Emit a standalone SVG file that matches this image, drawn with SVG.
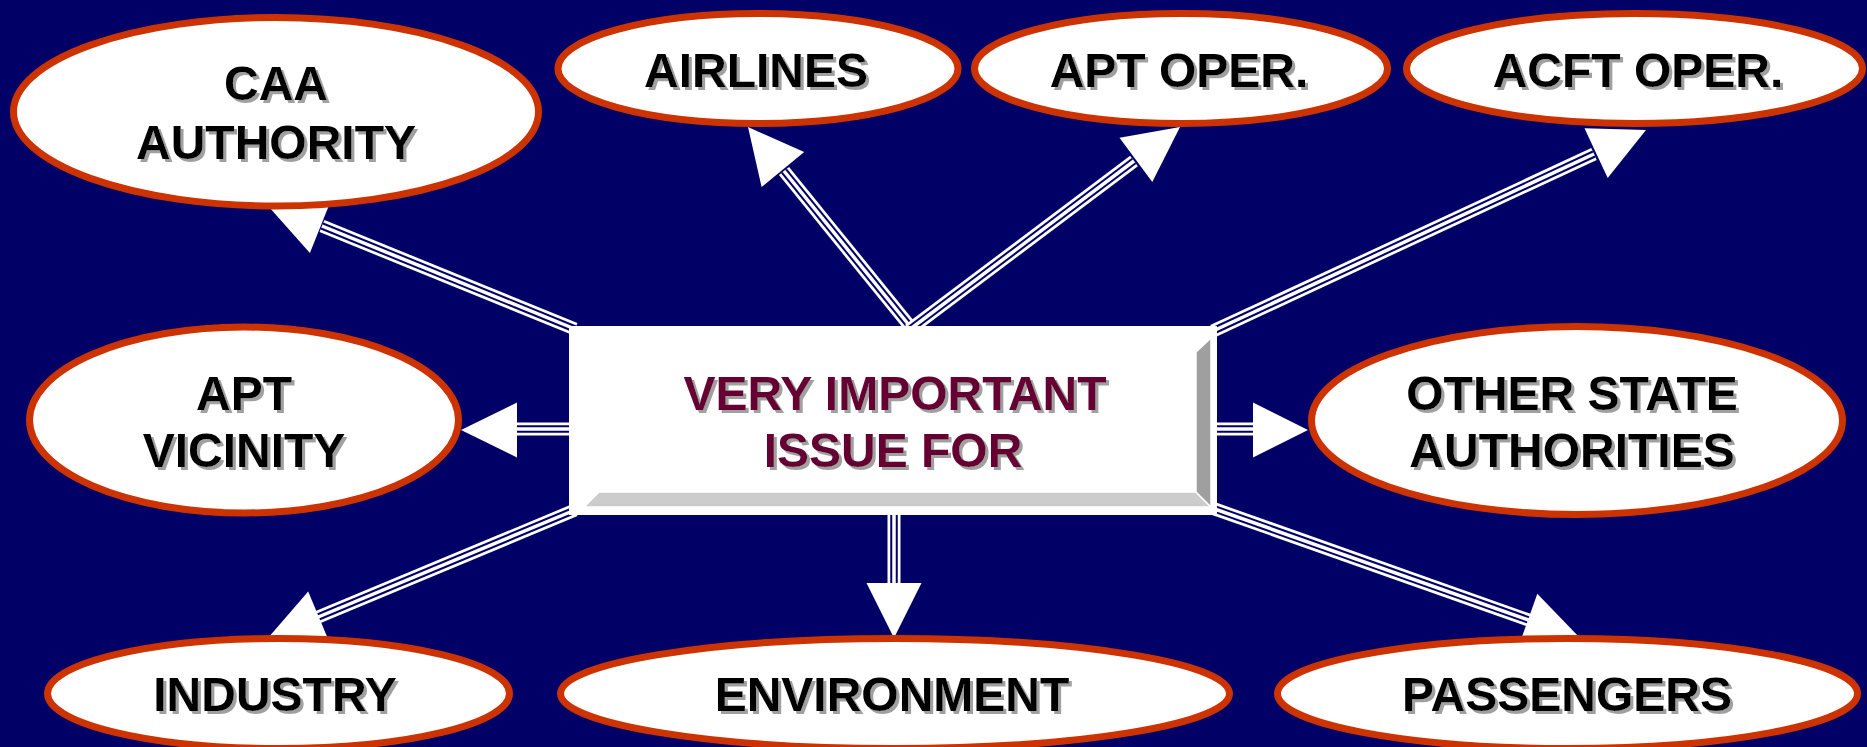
<svg xmlns="http://www.w3.org/2000/svg" width="1867" height="747" viewBox="0 0 1867 747">
<defs>
<filter id="sh" x="-5%" y="-20%" width="115%" height="150%">
<feDropShadow dx="3" dy="3" stdDeviation="0.6" flood-color="#A0A0A0" flood-opacity="1"/>
</filter>
<style>
.bg{fill:#000066}
.el{fill:#FFFFFF;stroke:#CC3300;stroke-width:7}
.t{font-family:"Liberation Sans",Arial,sans-serif;font-weight:bold;font-size:48px;text-anchor:middle;fill:#000000;filter:url(#sh)}
.tc{font-family:"Liberation Sans",Arial,sans-serif;font-weight:bold;font-size:48px;text-anchor:middle;fill:#660033;filter:url(#sh)}
.w1{stroke:#FFFFFF;stroke-width:13;fill:none}
.w2{stroke:#000066;stroke-width:7.5;fill:none}
.w3{stroke:#FFFFFF;stroke-width:3.5;fill:none}
.hd{fill:#FFFFFF}
</style>
</defs>
<rect class="bg" x="0" y="0" width="1867" height="747"/>
<g id="connectors">
<g><line class="w1" x1="575" y1="329" x2="322" y2="226"/><line class="w2" x1="575" y1="329" x2="322" y2="226"/><line class="w3" x1="575" y1="329" x2="322" y2="226"/>
<polygon class="hd" points="269,207 330.3,201.9 309.9,252.9"/></g>
<g><line class="w1" x1="913" y1="330" x2="784" y2="171"/><line class="w2" x1="913" y1="330" x2="784" y2="171"/><line class="w3" x1="913" y1="330" x2="784" y2="171"/>
<polygon class="hd" points="748,127 804.2,152.1 761.6,187"/></g>
<g><line class="w1" x1="909" y1="330" x2="1134" y2="161"/><line class="w2" x1="909" y1="330" x2="1134" y2="161"/><line class="w3" x1="909" y1="330" x2="1134" y2="161"/>
<polygon class="hd" points="1180,127 1152.3,181.9 1119.5,137.7"/></g>
<g><line class="w1" x1="1213" y1="331" x2="1594" y2="154"/><line class="w2" x1="1213" y1="331" x2="1594" y2="154"/><line class="w3" x1="1213" y1="331" x2="1594" y2="154"/>
<polygon class="hd" points="1646,130 1607.7,178.1 1584.5,128.3"/></g>
<g><line class="w1" x1="575" y1="429" x2="514" y2="429"/><line class="w2" x1="575" y1="429" x2="514" y2="429"/><line class="w3" x1="575" y1="429" x2="514" y2="429"/>
<polygon class="hd" points="461,430 517,402.5 517,457.5"/></g>
<g><line class="w1" x1="1210" y1="429" x2="1255" y2="429"/><line class="w2" x1="1210" y1="429" x2="1255" y2="429"/><line class="w3" x1="1210" y1="429" x2="1255" y2="429"/>
<polygon class="hd" points="1308,430 1253,402.5 1253,457.5"/></g>
<g><line class="w1" x1="575" y1="510" x2="317" y2="617.5"/><line class="w2" x1="575" y1="510" x2="317" y2="617.5"/><line class="w3" x1="575" y1="510" x2="317" y2="617.5"/>
<polygon class="hd" points="268,638 329.4,642.2 308.2,591.4"/></g>
<g><line class="w1" x1="894" y1="510" x2="894" y2="585"/><line class="w2" x1="894" y1="510" x2="894" y2="585"/><line class="w3" x1="894" y1="510" x2="894" y2="585"/>
<polygon class="hd" points="894,638 866.5,583 921.5,583"/></g>
<g><line class="w1" x1="1212" y1="508" x2="1530" y2="620.5"/><line class="w2" x1="1212" y1="508" x2="1530" y2="620.5"/><line class="w3" x1="1212" y1="508" x2="1530" y2="620.5"/>
<polygon class="hd" points="1580,638 1518.9,645.6 1537.3,593.8"/></g>
</g>
<g id="center">
<rect x="569" y="326" width="648" height="189" fill="#FFFFFF"/>
<polygon points="584,507 1211,507 1196,492 599,492" fill="#CCCCCC" stroke="#FFFFFF" stroke-width="1.5"/>
<polygon points="1211,338 1211,507 1196,492 1196,352" fill="#9F9F9F" stroke="#FFFFFF" stroke-width="1.5"/>
<text class="tc" x="895" y="410">VERY IMPORTANT</text>
<text class="tc" x="893" y="467">ISSUE FOR</text>
</g>
<g id="caa">
<ellipse class="el" cx="276" cy="111.75" rx="262.5" ry="94.25"/>
<text class="t" x="276" y="100">CAA</text>
<text class="t" x="276" y="159">AUTHORITY</text>
</g>
<g id="airlines">
<ellipse class="el" cx="758" cy="68.5" rx="200" ry="55"/>
<text class="t" x="756" y="87">AIRLINES</text>
</g>
<g id="aptoper">
<ellipse class="el" cx="1181" cy="68.5" rx="206.5" ry="55"/>
<text class="t" x="1179" y="87">APT OPER.</text>
</g>
<g id="acftoper">
<ellipse class="el" cx="1634.5" cy="68.5" rx="228" ry="55"/>
<text class="t" x="1638" y="87">ACFT OPER.</text>
</g>
<g id="aptvicinity">
<ellipse class="el" cx="244" cy="420" rx="214.5" ry="93"/>
<text class="t" x="244" y="410">APT</text>
<text class="t" x="244" y="467">VICINITY</text>
</g>
<g id="otherstate">
<ellipse class="el" cx="1577" cy="420.5" rx="265.5" ry="94"/>
<text class="t" x="1572" y="410">OTHER STATE</text>
<text class="t" x="1572" y="467">AUTHORITIES</text>
</g>
<g id="industry">
<ellipse class="el" cx="278.5" cy="693.5" rx="231" ry="55"/>
<text class="t" x="275" y="711">INDUSTRY</text>
</g>
<g id="environment">
<ellipse class="el" cx="895" cy="693.5" rx="334.5" ry="55"/>
<text class="t" x="892" y="711">ENVIRONMENT</text>
</g>
<g id="passengers">
<ellipse class="el" cx="1567.5" cy="693.5" rx="290" ry="55"/>
<text class="t" x="1567" y="711">PASSENGERS</text>
</g>
</svg>
